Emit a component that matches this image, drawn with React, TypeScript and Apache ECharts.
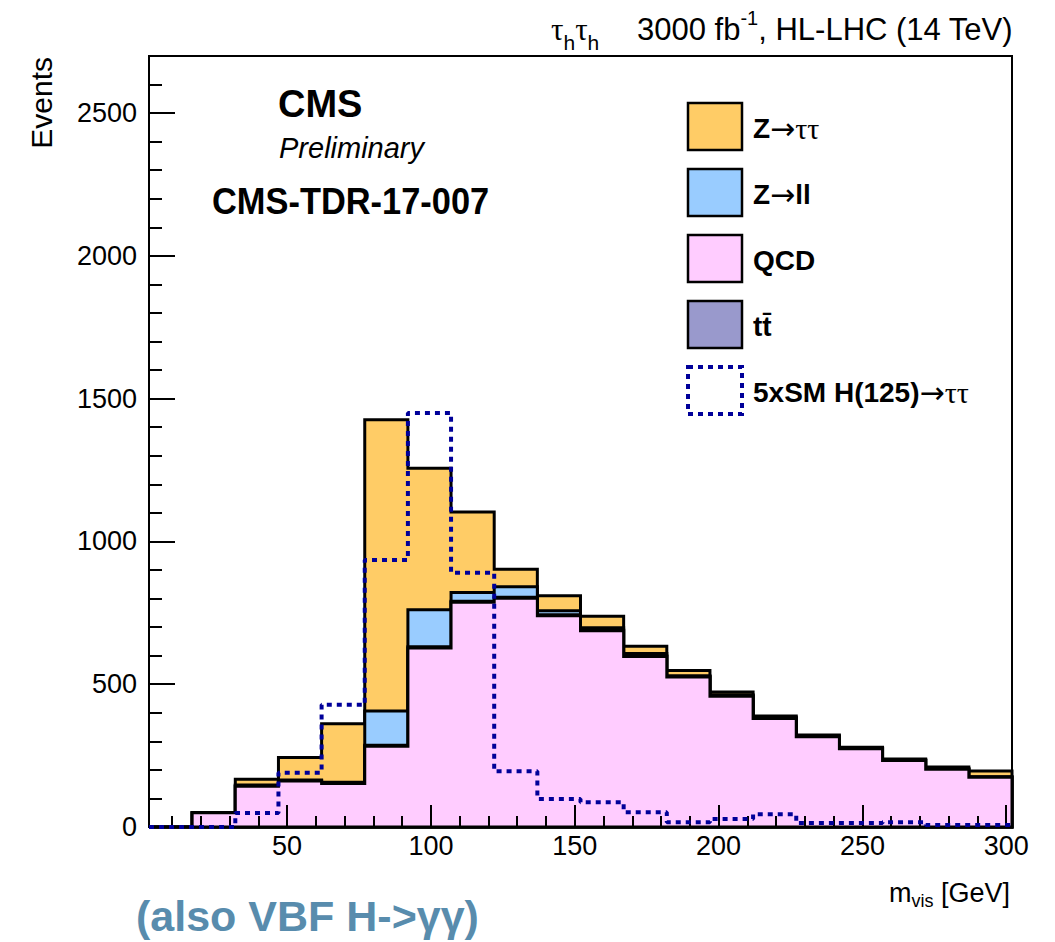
import React, { useEffect, useRef } from "react";
import * as echarts from "echarts";

// ---- data (20 bins of 15 GeV, from 2 to 302 GeV) ----
const binEdges = [2, 17, 32, 47, 62, 77, 92, 107, 122, 137, 152, 167, 182, 197, 212, 227, 242, 257, 272, 287, 302];
const qcd = [0, 50, 143, 161, 152, 283, 627, 787, 801, 740, 687, 597, 525, 458, 380, 316, 274, 233, 202, 174];
const ttbar = [0, 0, 1, 1, 2, 3, 4, 4, 4, 3, 3, 3, 2, 2, 2, 1, 1, 1, 1, 1];
const zll = [0, 0, 3, 3, 3, 120, 130, 30, 36, 14, 8, 8, 3, 3, 2, 1, 1, 1, 1, 1];
const ztt = [0, 0, 20, 78, 205, 1020, 495, 282, 62, 53, 40, 25, 18, 10, 5, 4, 3, 3, 6, 20];
const signal = [0, 0, 49, 190, 428, 935, 1450, 890, 195, 98, 87, 52, 17, 28, 45, 14, 14, 17, 7, 7];

const xMajorTicks = [50, 100, 150, 200, 250, 300];
const xMinorTicks = [10, 20, 30, 40, 60, 70, 80, 90, 110, 120, 130, 140, 160, 170, 180, 190, 210, 220, 230, 240, 260, 270, 280, 290];
const yMajorTicks = [0, 500, 1000, 1500, 2000, 2500];
const yMinorTicks = [100, 200, 300, 400, 600, 700, 800, 900, 1100, 1200, 1300, 1400, 1600, 1700, 1800, 1900, 2100, 2200, 2300, 2400, 2600];

const colZtt = "#ffcc66";
const colZll = "#99ccff";
const colQcd = "#ffccff";
const colTt = "#9999cc";
const colSig = "#000099";

const SANS = "'Liberation Sans', Arial, Helvetica, sans-serif";
const SERIF = "'Liberation Serif', 'Times New Roman', serif";
const ARROW = "'DejaVu Sans', sans-serif";

type Part = { text: string; size: number; family?: string; weight?: string; style?: string; dy?: number; fill?: string };

const legendEntries: { fill: string; dashed?: boolean; parts: Part[] }[] = [
  { fill: colZtt, parts: [{ text: "Z", size: 28, weight: "bold" }, { text: "→", size: 30, family: ARROW }, { text: "ττ", size: 30, family: SERIF }] },
  { fill: colZll, parts: [{ text: "Z", size: 28, weight: "bold" }, { text: "→", size: 30, family: ARROW }, { text: "ll", size: 28, weight: "bold" }] },
  { fill: colQcd, parts: [{ text: "QCD", size: 28, weight: "bold" }] },
  { fill: colTt, parts: [{ text: "tt\u0304", size: 28, weight: "bold" }] },
  { fill: "none", dashed: true, parts: [{ text: "5xSM H(125)", size: 28, weight: "bold" }, { text: "→", size: 30, family: ARROW }, { text: "ττ", size: 30, family: SERIF }] },
];

let measureCtx: CanvasRenderingContext2D | null = null;
function textWidth(text: string, size: number, family: string, weight = "normal", style = "normal") {
  if (!measureCtx) measureCtx = document.createElement("canvas").getContext("2d");
  measureCtx!.font = `${style} ${weight} ${size}px ${family}`;
  return measureCtx!.measureText(text).width;
}

function chain(x0: number, y: number, parts: Part[], baseFill = "#000") {
  let x = x0;
  const els: any[] = [];
  for (const p of parts) {
    const family = p.family || SANS;
    const weight = p.weight || "normal";
    const fstyle = p.style || "normal";
    els.push({
      type: "text",
      x,
      y: y + (p.dy || 0),
      z: 100,
      silent: true,
      style: {
        text: p.text,
        fontSize: p.size,
        fontFamily: family,
        fontWeight: weight,
        fontStyle: fstyle,
        fill: p.fill || baseFill,
        textAlign: "left",
        textVerticalAlign: "middle",
        align: "left",
        verticalAlign: "middle",
      },
    });
    x += textWidth(p.text, p.size, family, weight, fstyle);
  }
  return els;
}

function textEl(text: string, x: number, y: number, size: number, opts: any = {}) {
  return {
    type: "text",
    x,
    y,
    z: 100,
    silent: true,
    rotation: opts.rotation || 0,
    scaleX: opts.scaleX || 1,
    style: {
      text,
      fontSize: size,
      fontFamily: opts.family || SANS,
      fontWeight: opts.weight || "normal",
      fontStyle: opts.style || "normal",
      fill: opts.fill || "#000",
      textAlign: opts.align || "left",
      align: opts.align || "left",
      textVerticalAlign: opts.valign || "middle",
      verticalAlign: opts.valign || "middle",
    },
  };
}

function layerSeries(name: string, color: string, cum: number[]) {
  return {
    type: "custom",
    name,
    coordinateSystem: "cartesian2d",
    xAxisIndex: 0,
    yAxisIndex: 0,
    z: 2,
    silent: true,
    data: [[binEdges[0], 0]],
    renderItem: (_params: any, api: any) => {
      const pts: number[][] = [];
      pts.push(api.coord([binEdges[0], 0]));
      cum.forEach((v, i) => {
        pts.push(api.coord([binEdges[i], v]));
        pts.push(api.coord([binEdges[i + 1], v]));
      });
      pts.push(api.coord([binEdges[binEdges.length - 1], 0]));
      return {
        type: "polygon",
        shape: { points: pts },
        style: { fill: color, stroke: "#000", lineWidth: 3, lineJoin: "miter" },
      };
    },
  };
}

export default function App() {
  const ref = useRef<HTMLDivElement>(null);

  useEffect(() => {
    if (!ref.current) return;
    const chart = echarts.init(ref.current, undefined, { renderer: "svg" });

    const cumQcd = qcd.slice();
    const cumTt = qcd.map((v, i) => v + ttbar[i]);
    const cumZll = cumTt.map((v, i) => v + zll[i]);
    const cumZtt = cumZll.map((v, i) => v + ztt[i]);
    const sigData = binEdges.map((e, i) => [e, signal[Math.min(i, signal.length - 1)]]);

    const graphic: any[] = [];
    // legend
    const legendTops = [103, 169, 235, 301, 367];
    legendEntries.forEach((le, i) => {
      const top = legendTops[i];
      graphic.push({
        type: "rect",
        z: 100,
        silent: true,
        shape: { x: 688, y: top, width: 54, height: 47 },
        style: le.dashed
          ? { fill: "none", stroke: colSig, lineWidth: 4, lineDash: [5, 5] }
          : { fill: le.fill, stroke: "#000", lineWidth: 2.5 },
      });
      graphic.push(...chain(753, top + 25, le.parts));
    });
    // CMS labels
    graphic.push(textEl("CMS", 278, 104, 38, { weight: "bold" }));
    graphic.push(textEl("Preliminary", 279, 148, 29, { style: "italic" }));
    graphic.push(textEl("CMS-TDR-17-007", 212, 202, 37, { weight: "bold", scaleX: 0.93 }));
    // header
    graphic.push(
      ...chain(551, 29, [
        { text: "τ", size: 31, family: SERIF },
        { text: "h", size: 21, dy: 13 },
        { text: "τ", size: 31, family: SERIF },
        { text: "h", size: 21, dy: 13 },
      ])
    );
    graphic.push(
      ...chain(637, 29, [
        { text: "3000 fb", size: 31 },
        { text: "-1", size: 20, dy: -11 },
        { text: ", HL-LHC (14 TeV)", size: 31 },
      ])
    );
    // axis titles
    graphic.push(textEl("Events", 56, 57, 30, { rotation: Math.PI / 2, align: "right", valign: "bottom" }));
    graphic.push(
      ...chain(889, 893, [
        { text: "m", size: 27 },
        { text: "vis", size: 18, dy: 8 },
        { text: " [GeV]", size: 27 },
      ])
    );
    // note
    graphic.push(textEl("(also VBF H->γγ)", 136, 916, 43, { weight: "bold", fill: "#588cad" }));

    const axisCommon = {
      type: "value",
      z: 10,
      splitLine: { show: false },
    };
    const plain = (v: number) => String(v);

    const option: any = {
      animation: false,
      backgroundColor: "#ffffff",
      textStyle: { fontFamily: SANS },
      grid: { left: 149, right: 43, top: 56, bottom: 115, show: true, borderColor: "#000", borderWidth: 2, backgroundColor: "transparent" },
      xAxis: [
        {
          ...axisCommon,
          min: 2,
          max: 302,
          position: "bottom",
          axisLine: { show: true, onZero: false, lineStyle: { color: "#000", width: 2 } },
          axisTick: { show: true, inside: true, length: 22, customValues: xMajorTicks, lineStyle: { color: "#000", width: 2 } },
          axisLabel: { show: true, customValues: xMajorTicks, formatter: plain, fontSize: 27, color: "#000", fontFamily: SANS, margin: 5 },
        },
        {
          ...axisCommon,
          min: 2,
          max: 302,
          position: "bottom",
          axisLine: { show: false },
          axisTick: { show: true, inside: true, length: 11, customValues: xMinorTicks, lineStyle: { color: "#000", width: 2 } },
          axisLabel: { show: false },
        },
      ],
      yAxis: [
        {
          ...axisCommon,
          min: 0,
          max: 2700,
          position: "left",
          axisLine: { show: true, onZero: false, lineStyle: { color: "#000", width: 2 } },
          axisTick: { show: true, inside: true, length: 26, customValues: yMajorTicks, lineStyle: { color: "#000", width: 2 } },
          axisLabel: { show: true, customValues: yMajorTicks, formatter: plain, fontSize: 27, color: "#000", fontFamily: SANS, margin: 12 },
        },
        {
          ...axisCommon,
          min: 0,
          max: 2700,
          position: "left",
          axisLine: { show: false },
          axisTick: { show: true, inside: true, length: 13, customValues: yMinorTicks, lineStyle: { color: "#000", width: 2 } },
          axisLabel: { show: false },
        },
      ],
      series: [
        layerSeries("Z→ττ", colZtt, cumZtt),
        layerSeries("Z→ll", colZll, cumZll),
        layerSeries("tt̄", colTt, cumTt),
        layerSeries("QCD", colQcd, cumQcd),
        {
          type: "line",
          name: "5xSM H(125)→ττ",
          step: "end",
          xAxisIndex: 0,
          yAxisIndex: 0,
          z: 12,
          clip: false,
          showSymbol: false,
          symbol: "none",
          silent: true,
          data: sigData,
          lineStyle: { color: colSig, width: 4, type: [5, 5] },
        },
      ],
      graphic,
    };

    chart.setOption(option);
    return () => chart.dispose();
  }, []);

  return (
    <div
      ref={ref}
      style={{ position: "absolute", left: 0, top: 0, width: 1055, height: 942, background: "#fff" }}
    />
  );
}
